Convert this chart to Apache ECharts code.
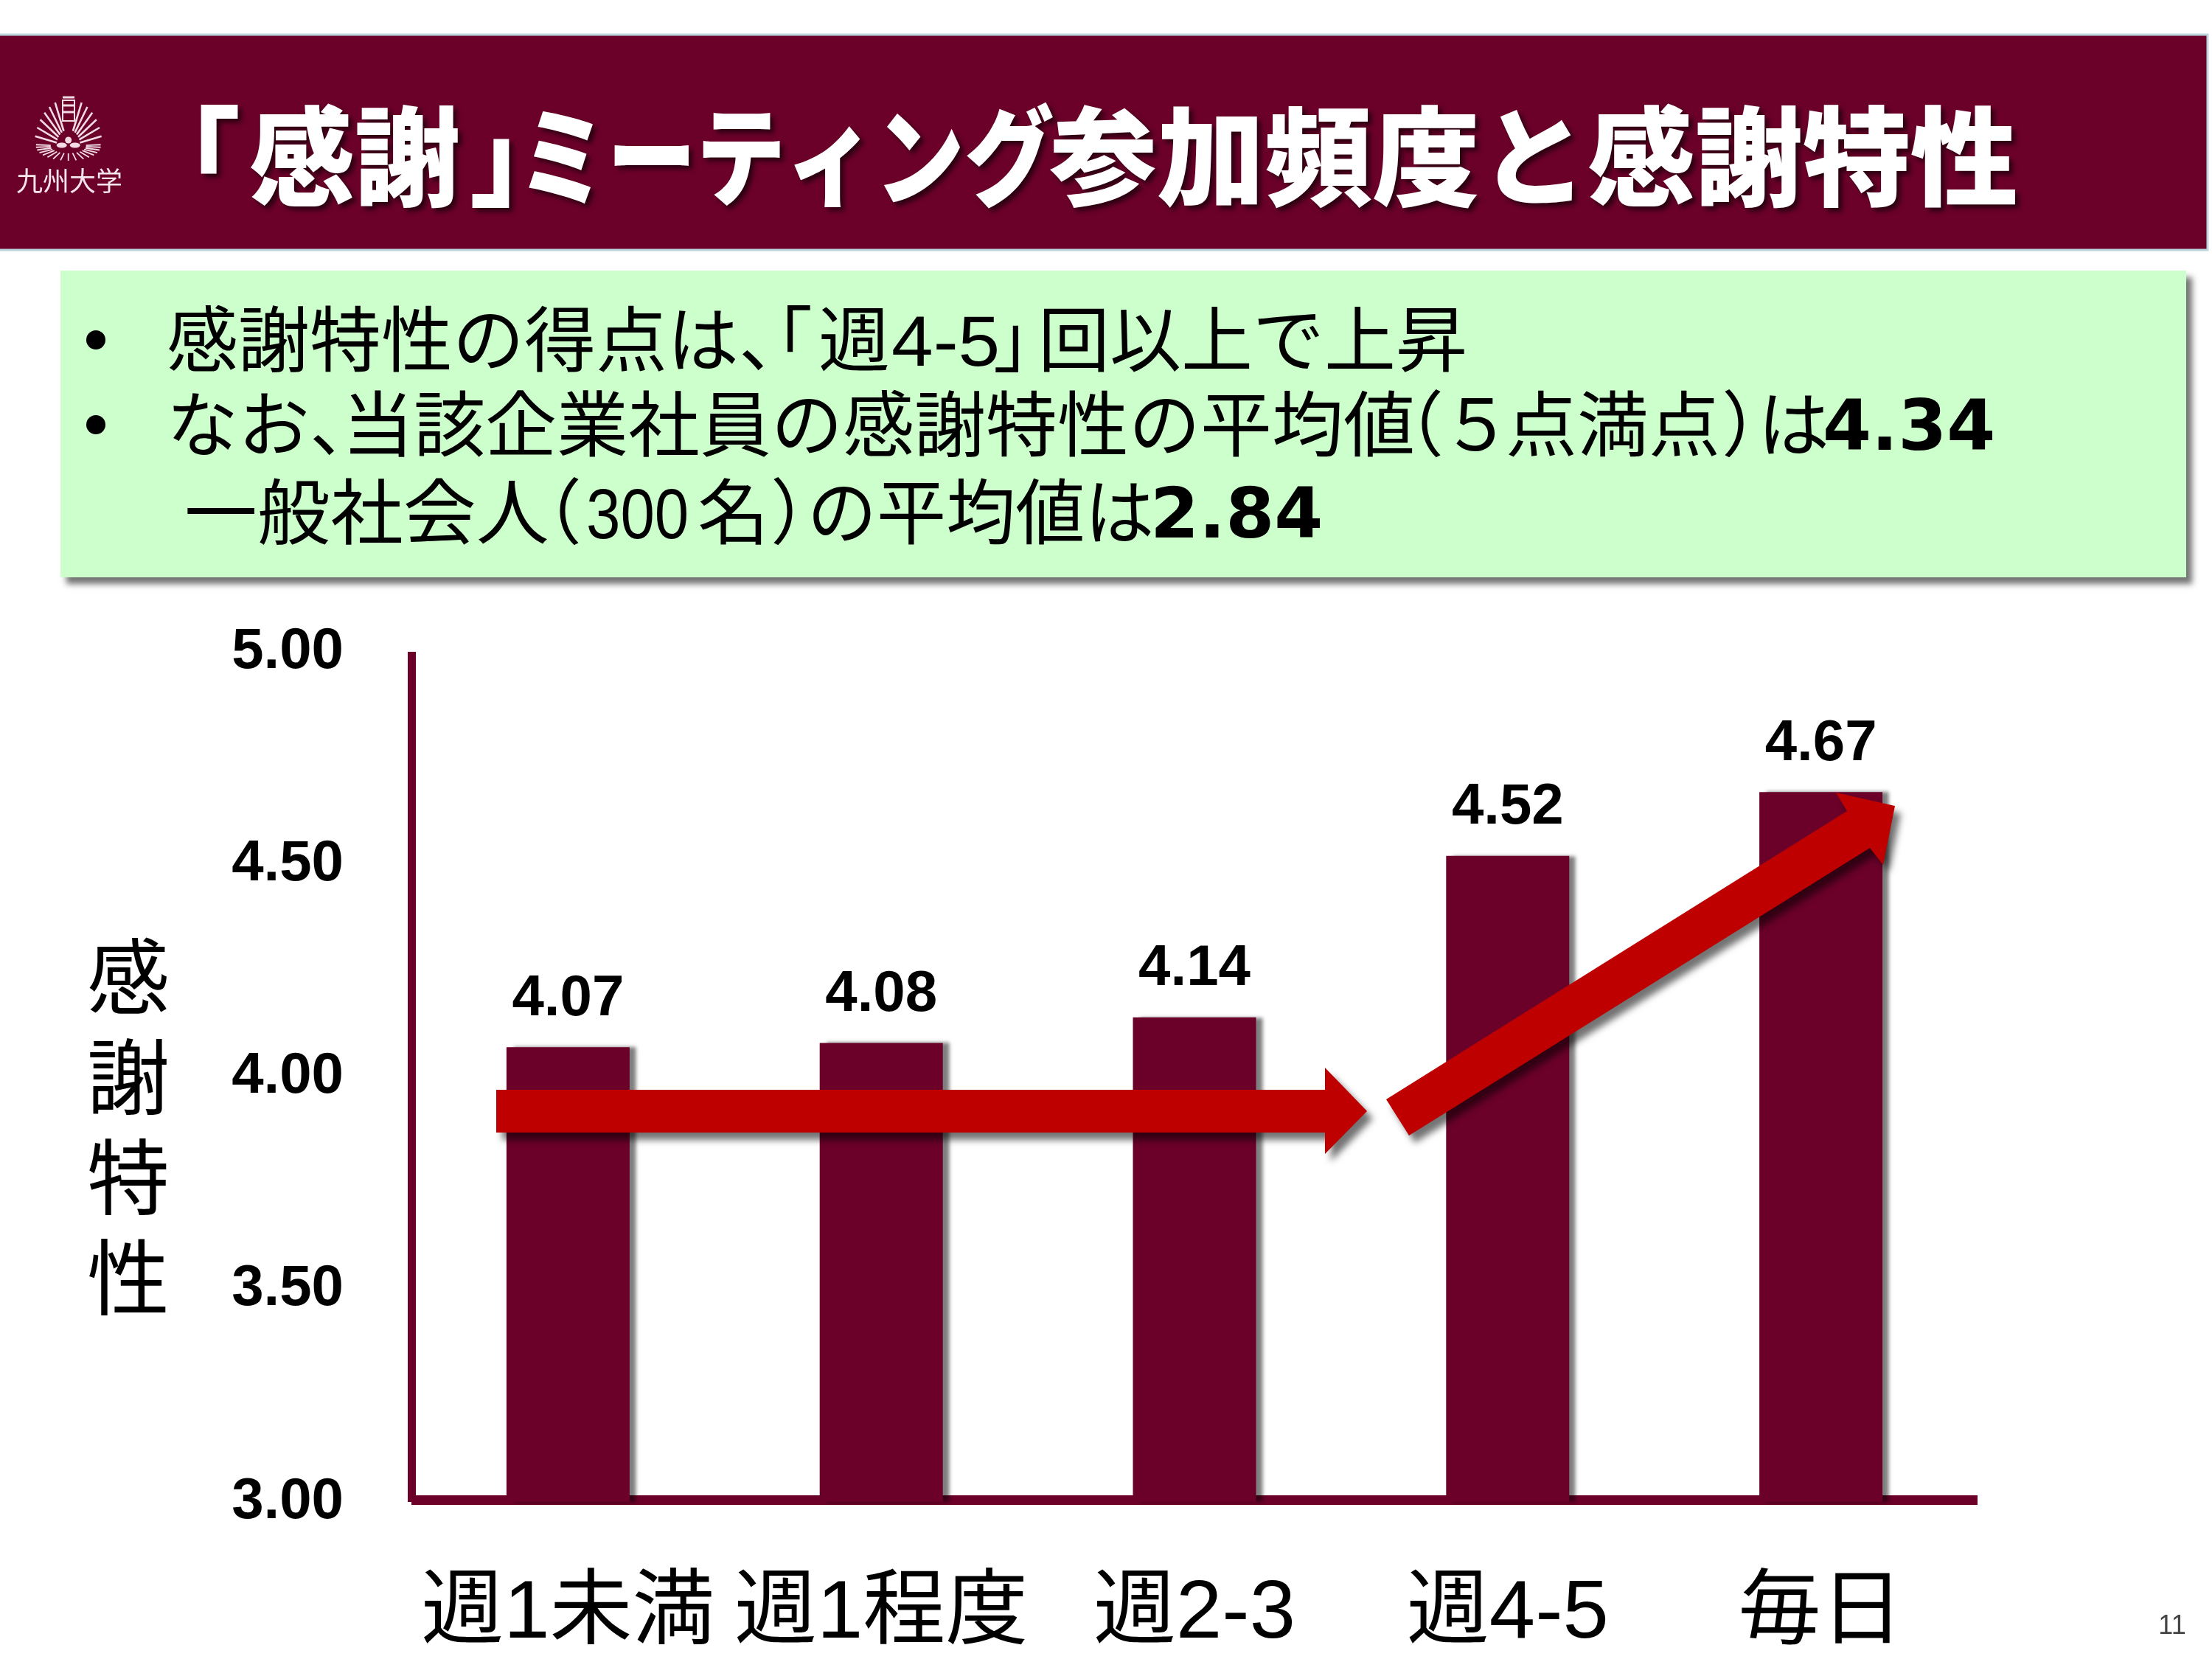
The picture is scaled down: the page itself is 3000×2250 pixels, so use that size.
<!DOCTYPE html>
<html><head><meta charset="utf-8">
<style>html,body{margin:0;padding:0;background:#fff}#c{width:3000px;height:2250px}</style>
<script src="https://cdn.jsdelivr.net/npm/echarts@6/dist/echarts.min.js"></script>
</head><body><div id="c"></div>
<script>
const categories = ['週1未満','週1程度','週2-3','週4-5','毎日'];
const values = [4.07,4.08,4.14,4.52,4.67];
const yName = ['感','謝','特','性'];
const titleParts = [['「',180,1],['感謝',338,0.98],['」',637,1],['ミーティング',702,0.83],['参加頻度と感謝特性',1423,1]];
const line1 = [['感謝特性の得点は、',226,1],['「',1005,1],['週',1110,1],['4-5',1209,1.05],['」',1347,1],['回以上で上昇',1408,1]];
const line2 = [['なお、',226,1],['当該企業社員の感謝特性の平均値',464,1],['（',1861,1],['５',1954,1],['点満点',2042,1],['）',2335,1],['は',2384,1]];
const line3 = [['一般社会人',250,1.02],['（',692,1],['300',795,0.86],['名',946,1],['）',1045,1],['の平均値は',1095,0.97]];
const CJK = '"Liberation Sans","Noto Sans CJK JP",sans-serif';
const MAROON = '#6B0029', RED = '#BE0000';

const g = [];
g.push({type:'rect',shape:{x:-5,y:47,width:2999,height:292},style:{fill:MAROON,stroke:'#bcd6dc',lineWidth:3},z:1});
g.push({type:'rect',shape:{x:82,y:367,width:2883,height:416},style:{fill:'#CCFFCC',shadowBlur:8,shadowOffsetX:8,shadowOffsetY:9,shadowColor:'rgba(0,0,0,.55)'},z:1});
titleParts.forEach(p=>g.push({type:'text',x:p[1],y:212,scaleX:p[2],z:3,style:{text:p[0],fill:'#fff',font:'900 146px "Noto Sans CJK JP"',textVerticalAlign:'middle',textAlign:'left',textShadowColor:'rgba(0,0,0,.6)',textShadowBlur:6,textShadowOffsetX:5,textShadowOffsetY:5}}));
// emblem
const EC='#f3dbe3', cx=92.7, cy=198;
[-168,-157,-146,-135,-124,-113,-67,-56,-45,-34,-23,-12].forEach(d=>{
  const a=d*Math.PI/180;
  g.push({type:'line',z:3,shape:{x1:cx+16*Math.cos(a),y1:cy+22*Math.sin(a),x2:cx+46*Math.cos(a),y2:cy+64*Math.sin(a)},style:{stroke:EC,lineWidth:2.6}});
});
[-5,5,16,27,38,50,62,76,90,104,118,130,142,153,164,175,185].forEach(d=>{
  const a=d*Math.PI/180;
  g.push({type:'line',z:3,shape:{x1:cx+24*Math.cos(a),y1:cy+10*Math.sin(a),x2:cx+44*Math.cos(a),y2:cy+20*Math.sin(a)},style:{stroke:EC,lineWidth:1.8}});
});
g.push({type:'rect',z:3,shape:{x:85,y:136,width:16,height:28},style:{fill:'none',stroke:EC,lineWidth:2}});
[132,143,152].forEach(y=>g.push({type:'line',z:3,shape:{x1:85,y1:y,x2:101,y2:y},style:{stroke:EC,lineWidth:3}}));
g.push({type:'circle',z:3,shape:{cx:cx,cy:190,r:4.5},style:{fill:EC}});
g.push({type:'ellipse',z:3,shape:{cx:cx-9,cy:197,rx:7,ry:3.5},style:{fill:EC}});
g.push({type:'ellipse',z:3,shape:{cx:cx+9,cy:197,rx:7,ry:3.5},style:{fill:EC}});
g.push({type:'text',x:94,y:245,z:3,style:{text:'九州大学',fill:'#f6e6ec',font:'36px "Noto Sans CJK JP"',textAlign:'center',textVerticalAlign:'middle'}});
// bullets
[461,576].forEach(y=>g.push({type:'circle',z:3,shape:{cx:130,cy:y,r:13},style:{fill:'#000'}}));
const addLine=(parts,y)=>parts.forEach(p=>g.push({type:'text',x:p[1],y:y,scaleX:p[2],z:3,style:{text:p[0],fill:'#000',font:'97px '+CJK,textAlign:'left',textVerticalAlign:'middle'}}));
addLine(line1,469);addLine(line2,584);addLine(line3,703);
g.push({type:'text',x:2472,y:585,z:3,style:{text:'4.34',fill:'#000',font:'bold 95px "DejaVu Sans"',textAlign:'left',textVerticalAlign:'middle'}});
g.push({type:'text',x:1560,y:704,z:3,style:{text:'2.84',fill:'#000',font:'bold 95px "DejaVu Sans"',textAlign:'left',textVerticalAlign:'middle'}});
g.push({type:'text',x:2946,y:2206,z:3,style:{text:'11',fill:'#444',font:'36px "Liberation Sans"',textAlign:'center',textVerticalAlign:'middle'}});
// arrows
const arrowStyle={fill:RED,shadowBlur:10,shadowOffsetX:8,shadowOffsetY:10,shadowColor:'rgba(0,0,0,.55)'};
g.push({type:'polygon',z:20,shape:{points:[[673,1478],[1797,1478],[1797,1448],[1854,1507],[1797,1565],[1797,1536],[673,1536]]},style:arrowStyle});
g.push({type:'polygon',z:20,shape:{points:[[1880,1491],[2505,1100],[2490,1075],[2570,1093],[2554,1173],[2536,1150],[1911,1540]]},style:arrowStyle});

const chart=echarts.init(document.getElementById('c'),null,{renderer:'canvas'});
chart.setOption({
  animation:false,backgroundColor:'#fff',
  grid:{left:558,right:318,top:884,bottom:213,containLabel:false},
  xAxis:{type:'category',data:categories,offset:-3,
    axisLine:{lineStyle:{color:MAROON,width:13,cap:'butt'}},axisTick:{show:false},
    axisLabel:{interval:0,color:'#000',fontSize:112,fontFamily:CJK,margin:100,hideOverlap:false}},
  yAxis:{type:'value',min:3,max:5,interval:0.5,
    name:'\n'+yName.join('\n'),nameLocation:'middle',nameRotate:0,nameGap:328,
    nameTextStyle:{color:'#000',fontSize:112,lineHeight:136,fontFamily:'"Noto Sans CJK JP"'},
    axisLine:{show:true,lineStyle:{color:MAROON,width:11,cap:'butt'}},axisTick:{show:false},splitLine:{show:false},
    axisLabel:{color:'#000',fontSize:78,fontWeight:'bold',fontFamily:'"Liberation Sans"',margin:92,formatter:v=>v.toFixed(2)}},
  series:[{type:'bar',data:values,barWidth:167,
    itemStyle:{color:MAROON,shadowBlur:5,shadowOffsetX:9,shadowOffsetY:0,shadowColor:'rgba(0,0,0,.5)'},
    label:{show:true,position:'top',distance:26,color:'#000',fontSize:78,fontWeight:'bold',fontFamily:'"Liberation Sans"',formatter:p=>p.value.toFixed(2)}}],
  graphic:{elements:g}
});
</script></body></html>
